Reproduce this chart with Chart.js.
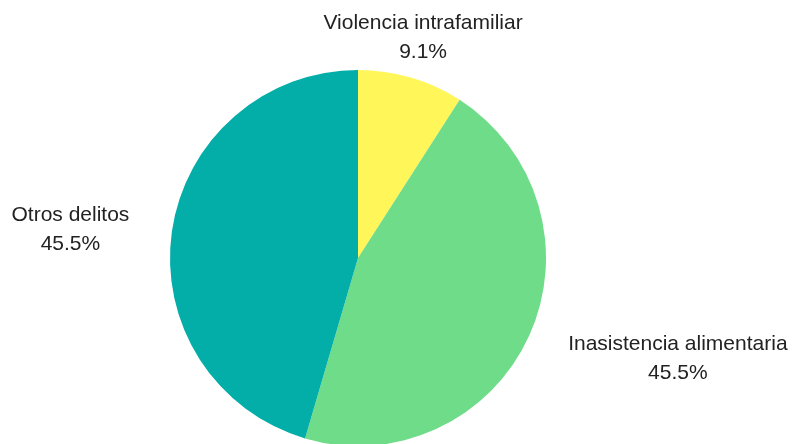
<!DOCTYPE html>
<html>
<head>
<meta charset="utf-8">
<script src="https://cdn.jsdelivr.net/npm/chart.js@4"></script>
<style>
  html, body { margin: 0; padding: 0; background: #fff; overflow: hidden; }
  #wrap { width: 793px; height: 460px; }
</style>
</head>
<body>
<div id="wrap"><canvas id="pie"></canvas></div>
<script>
const labels = ['Violencia intrafamiliar', 'Inasistencia alimentaria', 'Otros delitos'];
const values = [1, 5, 5];
const colors = ['#FFF759', '#6EDC89', '#03ADA8'];

// labels sit outside the pie; side labels are anchored left/right
const outsideLabels = {
  id: 'outsideLabels',
  afterDatasetsDraw(chart, args, opts) {
    const { ctx } = chart;
    const meta = chart.getDatasetMeta(0);
    const data = chart.data.datasets[0].data;
    const total = data.reduce((a, b) => a + b, 0);
    ctx.save();
    ctx.font = '21px "Liberation Sans", Arial, sans-serif';
    ctx.fillStyle = '#222';
    ctx.textAlign = 'center';
    ctx.textBaseline = 'middle';
    const lineH = 29;
    meta.data.forEach((arc, i) => {
      const p = arc.getProps(['x', 'y', 'startAngle', 'endAngle', 'outerRadius'], true);
      const mid = (p.startAngle + p.endAngle) / 2;
      const dx = Math.cos(mid), dy = Math.sin(mid);
      const lines = [chart.data.labels[i], (data[i] / total * 100).toFixed(1) + '%'];
      const w = Math.max(...lines.map(t => ctx.measureText(t).width));
      const h = lines.length * lineH;
      const r = p.outerRadius + opts.offset;
      let cx = p.x + r * dx;
      let cy = p.y + r * dy + 1;
      if (Math.abs(dx) > 0.5) {
        cx += Math.sign(dx) * w / 2;
        cy += 4;
      }
      lines.forEach((t, j) => {
        ctx.fillText(t, cx, cy - h / 2 + lineH * (j + 0.5));
      });
    });
    ctx.restore();
  }
};

new Chart(document.getElementById('pie'), {
  type: 'pie',
  data: {
    labels,
    datasets: [{
      data: values,
      backgroundColor: colors,
      borderWidth: 0,
    }],
  },
  options: {
    responsive: true,
    maintainAspectRatio: false,
    animation: false,
    layout: { padding: { top: 70, bottom: 14, left: 170, right: 247 } },
    plugins: {
      legend: { display: false },
      tooltip: { enabled: false },
      outsideLabels: { offset: 43 },
    },
  },
  plugins: [outsideLabels],
});
</script>
</body>
</html>
